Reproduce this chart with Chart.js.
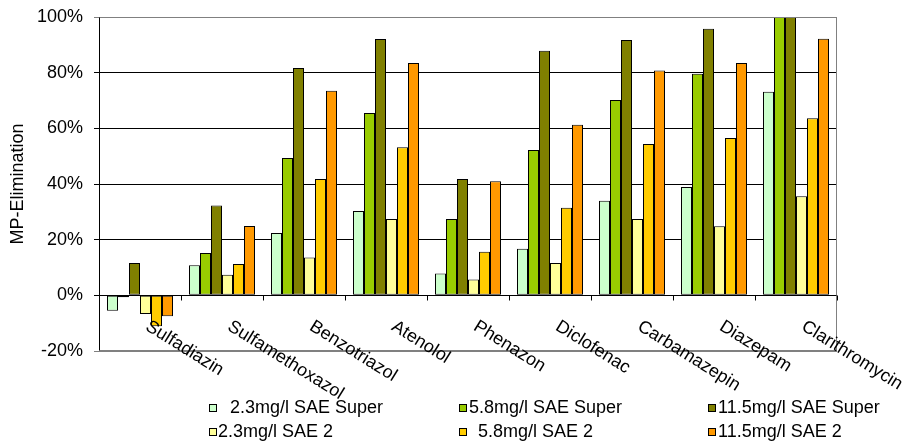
<!DOCTYPE html>
<html>
<head>
<meta charset="utf-8">
<script src="https://cdn.jsdelivr.net/npm/chart.js@4.4.1/dist/chart.umd.min.js"></script>
<style>
  html, body { margin: 0; padding: 0; background: #ffffff; }
  #wrap { width: 908px; height: 445px; }
</style>
</head>
<body>
<div id="wrap"><canvas id="chart" width="908" height="445"></canvas></div>
<script>
// Compounds on the category axis
const compounds = ['Sulfadiazin', 'Sulfamethoxazol', 'Benzotriazol', 'Atenolol', 'Phenazon',
                   'Diclofenac', 'Carbamazepin', 'Diazepam', 'Clarithromycin'];

// Elimination in percent per dosage / process
const saeSuper23  = [-5.5, 10.8, 22.4, 30.3,  7.8, 16.7, 34.0, 38.9,  73.1];
const saeSuper58  = [-0.7, 15.2, 49.3, 65.5, 27.4, 52.2, 70.2, 79.6, 100.0];
const saeSuper115 = [11.6, 32.3, 81.7, 92.1, 41.8, 87.9, 91.7, 95.8, 100.0];
const sae2_23     = [-6.7,  7.4, 13.6, 27.4,  5.7, 11.6, 27.4, 24.8,  35.6];
const sae2_58     = [-11.1, 11.3, 41.8, 53.2, 15.7, 31.5, 54.4, 56.5,  63.6];
const sae2_115    = [-7.5, 24.9, 73.5, 83.5, 41.0, 61.3, 80.8, 83.5,  92.2];

const seriesNames = ['2.3mg/l SAE Super', '5.8mg/l SAE Super', '11.5mg/l SAE Super',
                     '2.3mg/l SAE 2', '5.8mg/l SAE 2', '11.5mg/l SAE 2'];

// Value axis ticks (percent)
const yTicks = [-20, 0, 20, 40, 60, 80, 100];

const FONT = "'Liberation Sans', Arial, Helvetica, sans-serif";
const FONT_SIZE = 18;
const colors = ['#CCFFCC', '#99CC00', '#808000', '#FFFF99', '#FFCC00', '#FF9900'];
const seriesValues = [saeSuper23, saeSuper58, saeSuper115, sae2_23, sae2_58, sae2_115];

const datasets = seriesValues.map((vals, i) => ({
  label: seriesNames[i],
  data: vals,
  backgroundColor: colors[i],
  borderColor: '#000000',
  borderWidth: 1,
  borderSkipped: false,
  inflateAmount: 0,
  barThickness: 11
}));

// Frame of the plot area, zero line with category ticks
const framePlugin = {
  id: 'frame',
  afterDatasetsDraw(chart) {
    const { ctx, chartArea: a, scales: { x, y } } = chart;
    const L = Math.round(a.left) + 0.5, R = Math.round(a.right) - 0.5;
    const T = Math.round(a.top) + 0.5, B = Math.round(a.bottom) - 0.5;
    ctx.save();
    ctx.lineWidth = 1;
    ctx.strokeStyle = '#808080';
    ctx.beginPath();
    ctx.moveTo(L, T); ctx.lineTo(R, T); ctx.lineTo(R, B); ctx.lineTo(L, B);
    ctx.stroke();
    // value axis
    ctx.strokeStyle = '#000000';
    ctx.beginPath();
    ctx.moveTo(L, T); ctx.lineTo(L, B);
    ctx.stroke();
    // zero line
    const y0 = Math.round(y.getPixelForValue(0)) + 0.5;
    ctx.beginPath();
    ctx.moveTo(L, y0); ctx.lineTo(R, y0);
    const half = (x.getPixelForValue(1) - x.getPixelForValue(0)) / 2;
    for (let i = 0; i <= compounds.length; i++) {
      const px = Math.round(x.getPixelForValue(i) - half) + 0.5;
      ctx.moveTo(px, y0); ctx.lineTo(px, y0 + 5);
    }
    ctx.stroke();
    ctx.restore();
  }
};

// Slanted compound names below the zero line
const labelPlugin = {
  id: 'slantedLabels',
  afterDatasetsDraw(chart) {
    const { ctx, scales: { x, y } } = chart;
    const y0 = y.getPixelForValue(0);
    const angle = 32 * Math.PI / 180;
    ctx.save();
    ctx.font = FONT_SIZE + 'px ' + FONT;
    ctx.fillStyle = '#000000';
    ctx.textAlign = 'left';
    ctx.textBaseline = 'top';
    compounds.forEach((name, i) => {
      const cx = x.getPixelForValue(i);
      ctx.save();
      ctx.translate(cx + 12, y0 + 22);
      ctx.rotate(angle);
      ctx.fillText(name, 0, 0);
      ctx.restore();
    });
    ctx.restore();
  }
};

// Three-column legend in two rows
const legendPlugin = {
  id: 'gridLegend',
  afterDraw(chart) {
    const { ctx } = chart;
    const colX = [209, 459, 708];
    const rowY = [408, 432];
    const textGap = [13, 2, 2, 1, 11, 2];
    ctx.save();
    ctx.font = FONT_SIZE + 'px ' + FONT;
    ctx.textBaseline = 'middle';
    ctx.textAlign = 'left';
    seriesNames.forEach((name, i) => {
      const col = i % 3, row = Math.floor(i / 3);
      const mx = colX[col], my = rowY[row];
      ctx.fillStyle = colors[i];
      ctx.fillRect(mx, my - 4, 8, 8);
      ctx.strokeStyle = '#000000';
      ctx.lineWidth = 1;
      ctx.strokeRect(mx + 0.5, my - 3.5, 7, 7);
      ctx.fillStyle = '#000000';
      ctx.fillText(name, mx + 8 + textGap[i], my + 0.5);
    });
    ctx.restore();
  }
};

new Chart(document.getElementById('chart'), {
  type: 'bar',
  data: { labels: compounds, datasets },
  options: {
    responsive: false,
    animation: false,
    devicePixelRatio: 1,
    layout: { padding: { left: 0, right: 71, top: 17, bottom: 94 } },
    plugins: { legend: { display: false }, tooltip: { enabled: false } },
    scales: {
      x: { display: false },
      y: {
        min: -20,
        max: 100,
        afterBuildTicks(scale) { scale.ticks = yTicks.map(v => ({ value: v })); },
        afterFit(scale) {
          scale.width = 99;
          scale.paddingTop = 0;
          scale.paddingBottom = 0;
        },
        border: { display: false },
        grid: {
          color(c) {
            const v = c.tick ? c.tick.value : null;
            if (v === 100 || v === -20) return '#808080';
            return '#000000';
          },
          lineWidth: 1,
          tickLength: 5,
          drawTicks: true
        },
        ticks: {
          color: '#000000',
          font: { family: FONT, size: FONT_SIZE },
          padding: 11,
          callback: v => v + '%'
        },
        title: {
          display: true,
          text: 'MP-Elimination',
          color: '#000000',
          font: { family: FONT, size: FONT_SIZE },
          padding: { top: 7, bottom: 0 }
        }
      }
    }
  },
  plugins: [framePlugin, labelPlugin, legendPlugin]
});
</script>
</body>
</html>
